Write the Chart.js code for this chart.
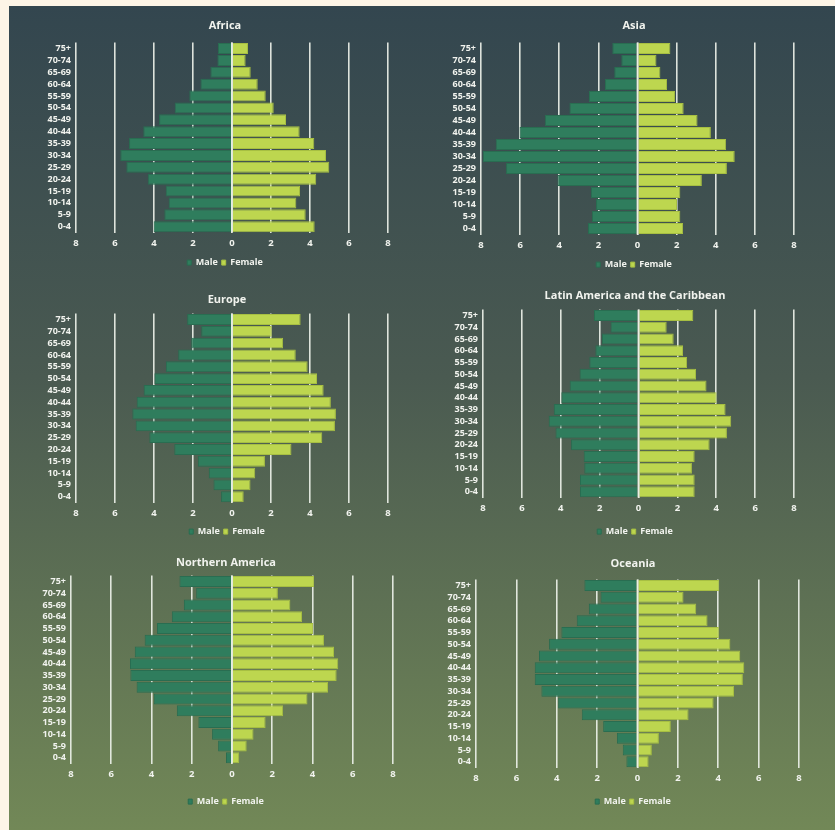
<!DOCTYPE html>
<html><head><meta charset="utf-8">
<script src="https://cdn.jsdelivr.net/npm/chart.js@4"></script>
<style>
html,body{margin:0;padding:0;background:#fdf5e7;}
body{width:835px;height:830px;position:relative;overflow:hidden;}
#panel{position:absolute;left:9px;top:6px;right:0;bottom:0;background:linear-gradient(to bottom,#33464f 0%,#4a5a51 45%,#728857 100%);}
.box{position:absolute;}
</style></head><body>
<div id="panel"></div>
<script>
// Age groups, youngest first (drawn bottom to top)
const ageGroups = ['0-4','5-9','10-14','15-19','20-24','25-29','30-34','35-39','40-44','45-49','50-54','55-59','60-64','65-69','70-74','75+'];
const xTickValues = [-8,-6,-4,-2,0,2,4,6,8];
const seriesNames = ['Male','Female'];
const regionNames = ['Africa','Asia','Europe','Latin America and the Caribbean','Northern America','Oceania'];

// Percent of population, youngest group first
const africaMale   = [4.02,3.47,3.25,3.40,4.32,5.42,5.73,5.28,4.55,3.74,2.94,2.19,1.62,1.11,0.75,0.72];
const africaFemale = [4.24,3.78,3.30,3.49,4.32,4.99,4.82,4.22,3.47,2.77,2.14,1.73,1.32,0.96,0.70,0.82];
const asiaMale     = [2.53,2.33,2.12,2.38,4.09,6.72,7.91,7.25,6.03,4.74,3.48,2.48,1.66,1.19,0.83,1.29];
const asiaFemale   = [2.33,2.19,2.02,2.19,3.29,4.57,4.97,4.53,3.75,3.07,2.36,1.92,1.51,1.17,0.97,1.68];
const europeMale   = [0.56,0.95,1.19,1.75,2.96,4.24,4.94,5.11,4.89,4.53,3.98,3.39,2.76,2.09,1.58,2.30];
const europeFemale = [0.60,0.95,1.19,1.69,3.05,4.63,5.28,5.33,5.07,4.70,4.36,3.88,3.27,2.62,2.04,3.52];
const latamMale    = [3.01,3.01,2.79,2.82,3.47,4.27,4.62,4.36,3.97,3.54,3.03,2.53,2.22,1.88,1.44,2.29];
const latamFemale  = [2.89,2.89,2.75,2.89,3.66,4.55,4.77,4.48,4.02,3.50,2.96,2.50,2.29,1.81,1.45,2.82];
const namMale      = [0.30,0.69,0.99,1.67,2.74,3.89,4.74,5.05,5.07,4.83,4.34,3.73,2.99,2.39,1.78,2.61];
const namFemale    = [0.36,0.73,1.07,1.67,2.54,3.75,4.77,5.20,5.28,5.07,4.57,4.03,3.48,2.90,2.28,4.08];
const oceaniaMale  = [0.55,0.73,1.02,1.70,2.76,3.93,4.76,5.09,5.09,4.88,4.38,3.77,3.01,2.41,1.83,2.63];
const oceaniaFemale= [0.55,0.71,1.06,1.65,2.53,3.77,4.78,5.22,5.29,5.09,4.60,4.03,3.47,2.91,2.28,4.05];

const maleSeries = [africaMale, asiaMale, europeMale, latamMale, namMale, oceaniaMale];
const femaleSeries = [africaFemale, asiaFemale, europeFemale, latamFemale, namFemale, oceaniaFemale];

// Layout (page pixels): plot box, title centre, legend centre, canvas left
const panelLayout = [
  {l:76,  r:388, t:43,  b:233, tc:26,  lc:263, cx:227, cl:18},
  {l:481, r:794, t:43,  b:235, tc:26,  lc:265, cx:636, cl:440},
  {l:76,  r:388, t:314, b:503, tc:300, lc:532, cx:229, cl:18},
  {l:483, r:794, t:310, b:498, tc:296, lc:532, cx:637, cl:440},
  {l:71,  r:393, t:576, b:764, tc:563, lc:802, cx:228, cl:18},
  {l:476, r:799, t:580, b:768, tc:564, lc:802, cx:635, cl:440}
];

const FONT = "'Open Sans', 'DejaVu Sans', sans-serif";
const TEXT = '#f1f3ee';

const zeroLine = {
  id: 'zeroLine',
  afterDatasetsDraw(chart) {
    const x = chart.scales.x.getPixelForValue(0);
    const a = chart.chartArea;
    const ctx = chart.ctx;
    ctx.save();
    ctx.strokeStyle = '#e8eee2';
    ctx.lineWidth = 1.8;
    ctx.beginPath();
    ctx.moveTo(x, a.top);
    ctx.lineTo(x, a.bottom);
    ctx.stroke();
    ctx.restore();
  }
};

regionNames.forEach((name, i) => {
  const L = panelLayout[i];
  const titleSize = 11, titleLH = titleSize * 1.2, titlePadTop = 4;
  const top = L.tc - titleLH / 2 - titlePadTop;
  const titlePadBottom = L.t - (L.tc + titleLH / 2);
  const legendPad = 4, legendFont = 9;
  const legendH = legendFont + legendPad + 10;
  const xh = L.lc - (legendPad + legendFont / 2) - L.b;
  const height = L.b + xh + legendH - top;
  const width = 2 * (L.cx - 2 - L.cl);
  const yw = L.l - L.cl;
  const y2w = L.cl + width - L.r;

  const div = document.createElement('div');
  div.className = 'box';
  div.style.left = L.cl + 'px';
  div.style.top = top + 'px';
  div.style.width = width + 'px';
  div.style.height = height + 'px';
  const cv = document.createElement('canvas');
  div.appendChild(cv);
  document.body.appendChild(div);

  new Chart(cv, {
    type: 'bar',
    data: {
      labels: ageGroups,
      datasets: [
        {label: seriesNames[0], data: maleSeries[i].map(v => -v), backgroundColor: '#2f7d5d', borderColor: '#296d51', borderWidth: 1},
        {label: seriesNames[1], data: femaleSeries[i], backgroundColor: '#bdd64f', borderColor: '#a7bf42', borderWidth: 1}
      ]
    },
    options: {
      indexAxis: 'y',
      responsive: true,
      maintainAspectRatio: false,
      animation: false,
      devicePixelRatio: 1,
      layout: {padding: 0},
      datasets: {bar: {barPercentage: 0.92, categoryPercentage: 1}},
      plugins: {
        tooltip: {enabled: false},
        title: {display: true, text: name, color: TEXT, font: {family: FONT, size: titleSize, weight: 'bold'}, padding: {top: titlePadTop, bottom: titlePadBottom}},
        legend: {position: 'bottom', labels: {color: TEXT, boxWidth: 4, boxHeight: 5, padding: legendPad, font: {family: FONT, size: legendFont, weight: 'bold'}}}
      },
      scales: {
        x: {
          stacked: true, min: -8, max: 8,
          afterBuildTicks: s => { s.ticks = xTickValues.map(v => ({value: v})); },
          grid: {color: 'rgba(236,240,232,0.92)', lineWidth: 1.6, drawTicks: false},
          border: {display: false},
          ticks: {color: TEXT, padding: 5, font: {family: FONT, size: 9.5, weight: 'bold'}, callback: v => Math.abs(v)},
          afterFit: s => { s.height = xh; }
        },
        y: {
          stacked: true, reverse: true,
          grid: {display: false, drawTicks: false},
          border: {display: false},
          ticks: {color: TEXT, padding: 5, autoSkip: false, font: {family: FONT, size: 9, weight: 'bold'}},
          afterFit: s => { s.width = yw; }
        },
        y2: {
          type: 'linear', position: 'right', display: true,
          grid: {display: false, drawTicks: false},
          border: {display: false},
          ticks: {display: false},
          afterFit: s => { s.width = y2w; }
        }
      }
    },
    plugins: [zeroLine]
  });
});
</script>
</body></html>
